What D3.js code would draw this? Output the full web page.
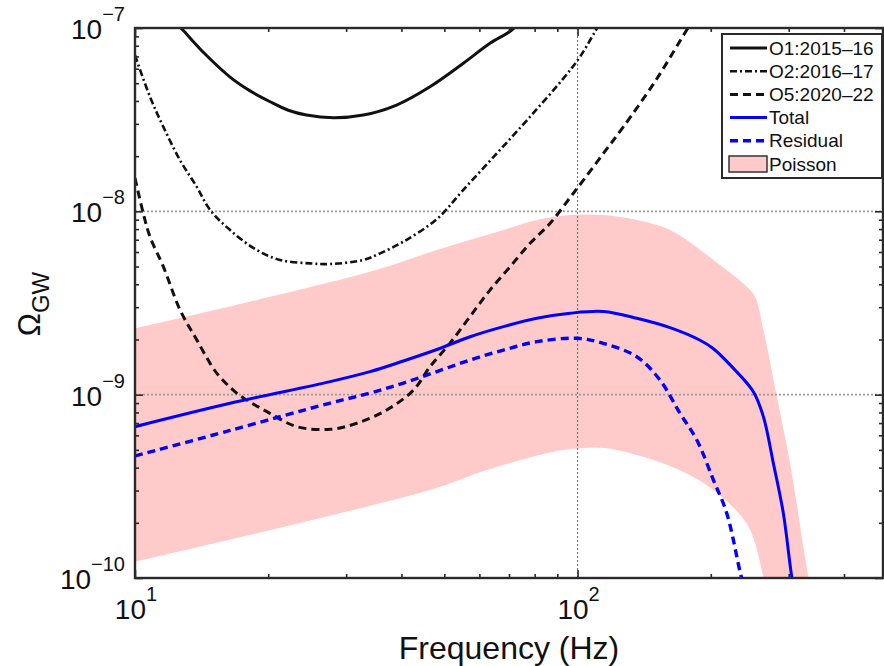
<!DOCTYPE html>
<html>
<head>
<meta charset="utf-8">
<script src="https://cdn.jsdelivr.net/npm/d3@7"></script>
<style>
  body { margin: 0; background: #fff; }
  svg text { font-family: "Liberation Sans", Arial, Helvetica, sans-serif; fill: #111; }
</style>
</head>
<body>
<div id="chart"></div>
<script>
// O1 sensitivity (solid black)
const o1Freq  = [12.3, 12.75, 14.4, 16.4, 18.2, 20.2, 22.2, 24.4, 28.1, 32.8, 39.0, 46.4, 55.2, 63.4, 71.0, 74];
const o1Omega = [1.08e-7, 9.9e-8, 7.21e-8, 5.4e-8, 4.54e-8, 3.96e-8, 3.56e-8, 3.35e-8, 3.24e-8, 3.35e-8, 3.8e-8, 4.78e-8, 6.42e-8, 8.25e-8, 9.75e-8, 1.09e-7];

// O2 sensitivity (dash-dot black)
const o2Freq  = [10, 10.81, 11.59, 12.64, 13.79, 14.77, 16.4, 18.84, 21.27, 24.86, 27.59, 32.8, 35.8, 40.4, 48.1, 55.2, 65.7, 78.1, 92.9, 101.3, 109.5, 113];
const o2Omega = [7.1e-8, 4.22e-8, 2.89e-8, 1.9e-8, 1.36e-8, 1.02e-8, 7.9e-9, 6.15e-9, 5.43e-9, 5.2e-9, 5.16e-9, 5.43e-9, 5.9e-9, 6.83e-9, 9.08e-9, 1.31e-8, 2.07e-8, 3.28e-8, 5.31e-8, 6.97e-8, 9.54e-8, 1.08e-7];

// O5 sensitivity (dashed black)
const o5Freq  = [10, 10.44, 10.81, 11.59, 12.64, 13.79, 15.3, 16.97, 17.88, 20.19, 23.2, 27.6, 31.7, 37.05, 42.6, 46.4, 51.5, 57.1, 63.4, 70.4, 78.1, 86.7, 96.2, 103.1, 114.4, 126.9, 150.4, 177.7, 185];
const o5Omega = [1.52e-8, 9.75e-9, 7.27e-9, 4.99e-9, 2.9e-9, 1.99e-9, 1.31e-9, 1.02e-9, 9.35e-10, 7.91e-10, 6.69e-10, 6.47e-10, 6.98e-10, 8.25e-10, 1.06e-9, 1.42e-9, 1.91e-9, 2.66e-9, 3.72e-9, 4.99e-9, 6.69e-9, 8.6e-9, 1.19e-8, 1.48e-8, 2.07e-8, 2.89e-8, 5.2e-8, 1.0e-7, 1.15e-7];

// Total background (solid blue)
const totalFreq  = [10, 16.4, 27.6, 33.96, 40.4, 48.1, 57.2, 68.0, 80.9, 96.2, 114.4, 136.1, 161.8, 189.2, 202.8, 222, 249.6, 263, 277, 291.8, 304.8, 310];
const totalOmega = [6.69e-10, 8.97e-10, 1.178e-9, 1.335e-9, 1.526e-9, 1.763e-9, 2.07e-9, 2.35e-9, 2.61e-9, 2.78e-9, 2.84e-9, 2.61e-9, 2.32e-9, 1.98e-9, 1.78e-9, 1.44e-9, 1.038e-9, 7.58e-10, 4.22e-10, 2.25e-10, 1.016e-10, 8.3e-11];

// Residual background (dashed blue)
const residFreq  = [10, 16.4, 27.6, 33.96, 40.4, 48.1, 57.2, 68.0, 80.9, 99.8, 114.4, 136.1, 153.6, 170.4, 186, 202.8, 217.4, 232.9, 236];
const residOmega = [4.63e-10, 6.38e-10, 9.0e-10, 1.02e-9, 1.157e-9, 1.337e-9, 1.546e-9, 1.752e-9, 1.945e-9, 2.03e-9, 1.906e-9, 1.61e-9, 1.2e-9, 7.91e-10, 5.66e-10, 3.42e-10, 2.25e-10, 1.08e-10, 9.5e-11];

// Poisson error band, upper and lower edges
const poisUpFreq  = [10, 33.96, 48.1, 68.0, 80.9, 96.2, 114.4, 136.1, 161.8, 202.8, 241.2, 251.8, 263, 282, 302.1, 323.8, 332.3, 336];
const poisUpOmega = [2.30e-9, 4.68e-9, 6.15e-9, 7.91e-9, 8.97e-9, 9.55e-9, 9.55e-9, 8.97e-9, 7.91e-9, 5.43e-9, 3.88e-9, 3.42e-9, 2.25e-9, 9.75e-10, 4.22e-10, 1.48e-10, 1.016e-10, 9e-11];
const poisLoFreq  = [10, 46.4, 62.3, 88.2, 101.3, 116.4, 148.4, 176.5, 202.8, 242.2, 263, 266];
const poisLoOmega = [1.227e-10, 3.02e-10, 3.88e-10, 4.89e-10, 5.1e-10, 5.1e-10, 4.4e-10, 3.72e-10, 3.02e-10, 1.945e-10, 1.016e-10, 9e-11];

const legendLabels = ["O1:2015\u201316", "O2:2016\u201317", "O5:2020\u201322", "Total", "Residual", "Poisson"];
const xMajor = [10, 100];
const xMinor = [20, 30, 40, 50, 60, 70, 80, 90, 200, 300, 400];
const yMajor = [1e-10, 1e-9, 1e-8, 1e-7];
const yExp = ["\u221210", "\u22129", "\u22128", "\u22127"];

const W = 884, H = 666;
const plot = { left: 135, right: 883, top: 28, bottom: 578 };

const svg = d3.select("#chart").append("svg")
  .attr("width", W).attr("height", H);

const x = d3.scaleLog().domain([10, 490]).range([plot.left, plot.right]);
const y = d3.scaleLog().domain([1e-10, 1e-7]).range([plot.bottom, plot.top]);

const yMinor = [];
[1e-10, 1e-9, 1e-8].forEach(d => { for (let k = 2; k <= 9; k++) yMinor.push(d * k); });

svg.append("clipPath").attr("id", "clip")
  .append("rect")
  .attr("x", plot.left).attr("y", plot.top)
  .attr("width", plot.right - plot.left).attr("height", plot.bottom - plot.top);

const g = svg.append("g").attr("clip-path", "url(#clip)");

const zip = (fs, vs) => fs.map((f, i) => [f, vs[i]]);
const smooth = d3.curveCatmullRom.alpha(0.5);

// Poisson band: fill under upper edge, then blank out under lower edge
const areaGen = d3.area()
  .x(d => x(d[0])).y0(plot.bottom).y1(d => y(d[1]))
  .curve(smooth);
g.append("path").datum(zip(poisUpFreq, poisUpOmega))
  .attr("d", areaGen).attr("fill", "#ffcaca");
g.append("path").datum(zip(poisLoFreq, poisLoOmega))
  .attr("d", areaGen).attr("fill", "#fff");

// dotted grid at major ticks
const grid = g.append("g").attr("stroke", "#9a9a9a").attr("stroke-width", 1.6)
  .attr("stroke-dasharray", "2,2");
[1e-9, 1e-8].forEach(v => {
  grid.append("line").attr("x1", plot.left).attr("x2", plot.right)
    .attr("y1", y(v)).attr("y2", y(v));
});
grid.append("line").attr("x1", x(100)).attr("x2", x(100))
  .attr("y1", plot.top).attr("y2", plot.bottom)
  .attr("stroke", "#777").attr("stroke-width", 1.2);

const lineGen = d3.line().x(d => x(d[0])).y(d => y(d[1])).curve(smooth);

const series = [
  { f: o1Freq, v: o1Omega, color: "#111", width: 3, dash: null },
  { f: o2Freq, v: o2Omega, color: "#111", width: 2.6, dash: "7,3,2,3" },
  { f: o5Freq, v: o5Omega, color: "#111", width: 3, dash: "8,5" },
  { f: totalFreq, v: totalOmega, color: "#0000ff", width: 3, dash: null },
  { f: residFreq, v: residOmega, color: "#0000ff", width: 3.4, dash: "8,5" }
];

series.forEach(s => {
  g.append("path").datum(zip(s.f, s.v))
    .attr("d", lineGen)
    .attr("fill", "none")
    .attr("stroke", s.color)
    .attr("stroke-width", s.width)
    .attr("stroke-dasharray", s.dash);
});

// axes box with inward ticks on all sides
const axisColor = "#2a2a2a";
function tickAxis(axis, vals, size, transform) {
  svg.append("g").attr("transform", transform)
    .call(axis.tickValues(vals).tickSize(size).tickFormat(""))
    .call(a => a.select(".domain").remove())
    .call(a => a.selectAll("line").attr("stroke", axisColor).attr("stroke-width", 1.6));
}
tickAxis(d3.axisBottom(x), xMajor, -8, `translate(0,${plot.bottom})`);
tickAxis(d3.axisBottom(x), xMinor, -4, `translate(0,${plot.bottom})`);
tickAxis(d3.axisTop(x), xMajor, -8, `translate(0,${plot.top})`);
tickAxis(d3.axisTop(x), xMinor, -4, `translate(0,${plot.top})`);
tickAxis(d3.axisLeft(y), yMajor, -8, `translate(${plot.left},0)`);
tickAxis(d3.axisLeft(y), yMinor, -4, `translate(${plot.left},0)`);
tickAxis(d3.axisRight(y), yMajor, -8, `translate(${plot.right},0)`);
tickAxis(d3.axisRight(y), yMinor, -4, `translate(${plot.right},0)`);

svg.append("rect")
  .attr("x", plot.left).attr("y", plot.top)
  .attr("width", plot.right - plot.left).attr("height", plot.bottom - plot.top)
  .attr("fill", "none").attr("stroke", axisColor).attr("stroke-width", 2.4);

// tick labels
xMajor.forEach((v, i) => {
  const t = svg.append("text").attr("x", x(v) + 1).attr("y", 619)
    .attr("text-anchor", "middle").attr("font-size", 28);
  t.append("tspan").text("10");
  t.append("tspan").attr("dy", -18).attr("font-size", 20).text(String(i + 1));
});
yMajor.forEach((v, i) => {
  const t = svg.append("text").attr("x", 125).attr("y", y(v) + 11)
    .attr("text-anchor", "end").attr("font-size", 28);
  t.append("tspan").text("10");
  t.append("tspan").attr("dy", -18).attr("font-size", 20).text(yExp[i]);
});

// axis titles
svg.append("text").attr("x", (plot.left + plot.right) / 2).attr("y", 659)
  .attr("text-anchor", "middle").attr("font-size", 32)
  .text("Frequency (Hz)");

const yt = svg.append("text")
  .attr("transform", "translate(40,304) rotate(-90)")
  .attr("text-anchor", "middle").attr("font-size", 31);
yt.append("tspan").text("\u03A9");
yt.append("tspan").attr("dy", 9).attr("font-size", 24).text("GW");

// legend
const leg = svg.append("g");
leg.append("rect").attr("x", 722).attr("y", 34).attr("width", 160).attr("height", 144)
  .attr("fill", "#fff").attr("stroke", axisColor).attr("stroke-width", 2);
const rowY = d3.scaleLinear().domain([0, 5]).range([48, 164]);
legendLabels.forEach((lab, i) => {
  const yy = rowY(i);
  if (i < 5) {
    const s = series[i];
    leg.append("line").attr("x1", 730).attr("x2", 767).attr("y1", yy).attr("y2", yy)
      .attr("stroke", s.color).attr("stroke-width", s.width)
      .attr("stroke-dasharray", s.dash);
  } else {
    leg.append("rect").attr("x", 729).attr("y", yy - 8).attr("width", 38).attr("height", 16)
      .attr("fill", "#ffcaca").attr("stroke", "#333").attr("stroke-width", 1.5);
  }
  leg.append("text").attr("x", 769).attr("y", yy + 6.5)
    .attr("font-size", 19).text(lab);
});
</script>
</body>
</html>
